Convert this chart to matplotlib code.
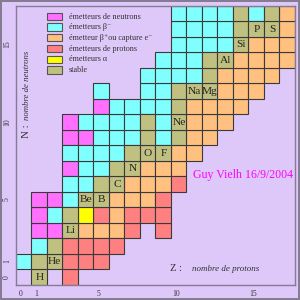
import matplotlib
matplotlib.use('Agg')
import matplotlib.pyplot as plt
from matplotlib.patches import Rectangle

# Chart of the light nuclides.
# One string per proton number Z, character index = neutron number N.
# '.' none, 'n' neutron emitter, 'b' beta-, 'p' beta+ / e- capture,
# 'x' proton emitter, 'a' alpha emitter, 's' stable
z_values = list(range(18))
decay_columns = [
    ".b................",  # Z=0
    "ssbnnn............",  # Z=1  H
    ".ssnbn............",  # Z=2  He
    "xxxssbbnbnn.......",  # Z=3  Li
    ".xxpasbbbnb.......",  # Z=4  Be
    ".xxpxssbbbbnb.....",  # Z=5  B
    "..xpppssbbbb......",  # Z=6  C
    "...xxppssbbb......",  # Z=7  N
    "....xpppsssbbb....",  # Z=8  O
    "...xxxppsbbbbbb...",  # Z=9  F
    "......xppssssbbbbb",  # Z=10 Ne
    "........ppppsbbbbb",  # Z=11 Na
    ".........pppsssbbb",  # Z=12 Mg
    "..........ppppsbbb",  # Z=13 Al
    "...........ppppsss",  # Z=14 Si
    "............ppppsb",  # Z=15 P
    ".............pppss",  # Z=16 S
    "..............pppp",  # Z=17
]

# Element symbols and the cell (Z, N) they are written in
element_symbols = ['H', 'He', 'Li', 'Be', 'B', 'C', 'N', 'O', 'F',
                   'Ne', 'Na', 'Mg', 'Al', 'Si', 'P', 'S']
element_z = [1, 2, 3, 4, 5, 6, 7, 8, 9, 10, 11, 12, 13, 14, 15, 16]
element_n = [0, 1, 3, 5, 5, 6, 7, 8, 8, 10, 12, 12, 14, 15, 16, 16]

legend_codes = ['n', 'b', 'p', 'x', 'a', 's']
legend_labels = ['émetteurs de neutrons', 'émetteurs β⁻',
                 'émetteur β⁺ou capture e⁻', 'émetteurs de protons',
                 'émetteurs α', 'stable']

x_ticks = [0, 1, 5, 10, 15]
y_ticks = [0, 1, 5, 10, 15]

# Styles
colors = {'n': '#ff70ff', 'b': '#80ffff', 'p': '#ffc080',
          'x': '#ff8080', 'a': '#ffff00', 's': '#c0c080'}
background = '#dec8fa'
frame_color = '#857b92'
edge_color = '#3a3a3a'
serif = ['Liberation Serif', 'DejaVu Serif']
px = 72 / 100  # points per pixel at dpi 100

fig = plt.figure(figsize=(3, 3), dpi=100, facecolor=background,
                 edgecolor=frame_color, linewidth=1.5)
ax = fig.add_axes([15.7 / 300, 15.5 / 300, 279.3 / 300, 278.5 / 300])
ax.set_facecolor(background)
ax.set_xlim(0, 18)
ax.set_ylim(0, 18)

# Cells, grouped by decay mode
for code, color in colors.items():
    zs, ns = [], []
    for z, column in zip(z_values, decay_columns):
        for n, c in enumerate(column):
            if c == code:
                zs.append(z)
                ns.append(n)
    ax.bar(zs, 1, width=1, bottom=ns, align='edge', color=color,
           edgecolor=edge_color, linewidth=0.8, zorder=2)

# Element labels
for sym, z, n in zip(element_symbols, element_z, element_n):
    ax.text(z + 0.52, n + 0.48, sym, ha='center', va='center',
            fontsize=11.4 * px, family=serif, color='#222222', zorder=3)

# Axis titles, drawn inside the frame
ax.text(0.68, 9.5, 'N :', rotation=90, ha='center', va='bottom',
        fontsize=11 * px, family=serif, color='#333333')
ax.text(0.74, 10.6, 'nombre de neutrons', rotation=90, ha='center',
        va='bottom', fontsize=8.8 * px, family=serif, style='italic',
        color='#333333')
ax.text(9.97, 0.89, 'Z :', ha='left', va='baseline',
        fontsize=10.5 * px, family=serif, color='#333333')
ax.text(11.35, 0.89, 'nombre de protons', ha='left', va='baseline',
        fontsize=9 * px, family=serif, style='italic', color='#333333')

# Signature
ax.text(11.44, 7.06, 'Guy Vielh 16/9/2004', ha='left', va='center',
        fontsize=11.9 * px, family=serif, color='#ff00ff')

# Legend, placed by hand in figure pixels
for i, (code, label) in enumerate(zip(legend_codes, legend_labels)):
    top = 12.7 + i * 10.7
    fig.add_artist(Rectangle((46.7 / 300, 1 - (top + 7.3) / 300),
                             15.6 / 300, 7.3 / 300,
                             transform=fig.transFigure,
                             facecolor=colors[code], edgecolor='#555555',
                             linewidth=0.8))
    fig.text(69 / 300, 1 - (top + 3.9) / 300, label, ha='left',
             va='center', fontsize=8.1 * px, family=serif,
             color='#333333')

# Ticks
ax.set_xticks([t + 0.33 for t in x_ticks])
ax.set_xticklabels([str(t) for t in x_ticks])
ax.set_yticks([t + 0.5 for t in y_ticks])
ax.set_yticklabels([str(t) for t in y_ticks], rotation=90, va='center')
ax.tick_params(length=0, labelsize=7.6 * px, labelcolor='#333333')
ax.tick_params(axis='x', pad=4)
ax.tick_params(axis='y', pad=3.5)
for label in ax.get_xticklabels() + ax.get_yticklabels():
    label.set_family(serif)

for spine in ax.spines.values():
    spine.set_color(frame_color)
    spine.set_linewidth(1.0)

fig.savefig('out.png', dpi=100, facecolor=background)
